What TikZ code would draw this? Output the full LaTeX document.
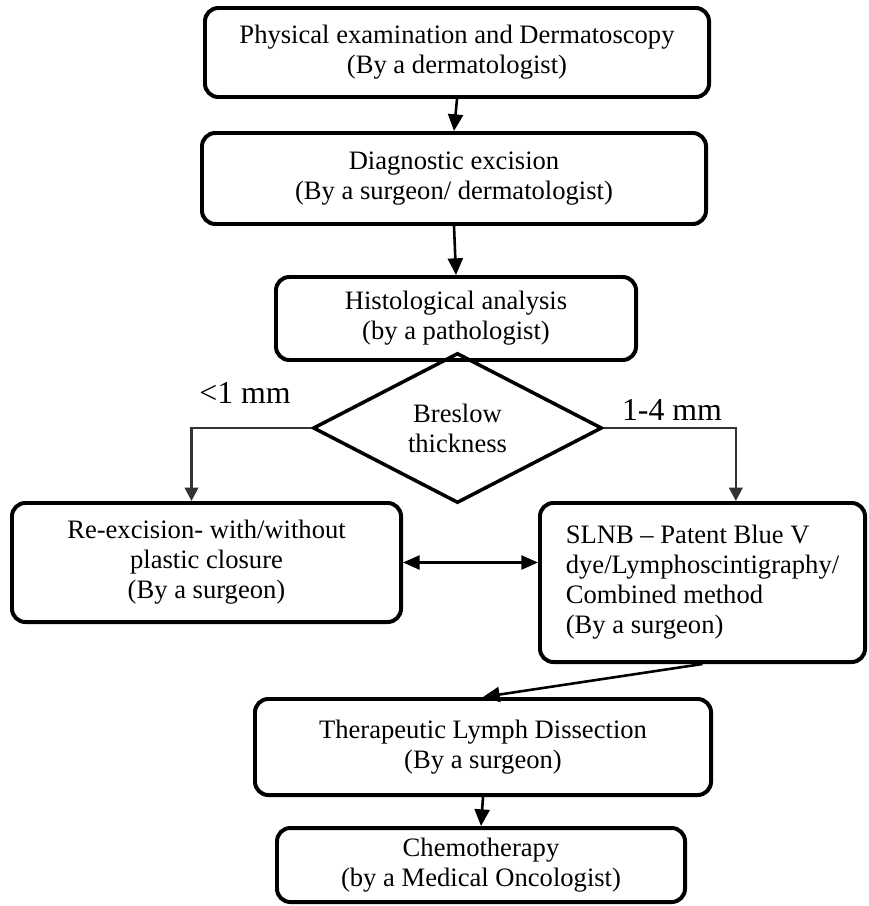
\documentclass[tikz,border=0pt]{standalone}
\usepackage{fontspec}
\setmainfont{Liberation Serif}
\usetikzlibrary{arrows.meta,shapes.geometric}

\begin{document}
\begin{tikzpicture}[x=0.03cm,y=-0.03cm,
    stage/.style={draw,rounded corners=0.4cm,line width=3.4pt,align=center,inner sep=0pt,
        font=\fontsize{22.7}{25.6}\selectfont},
    decision/.style={draw,diamond,aspect=1.9,line width=3pt,align=center,inner sep=0pt,
        minimum width=8.67cm,minimum height=4.5cm,font=\fontsize{22.7}{25.6}\selectfont},
    flow/.style={line width=2.2pt,-{Triangle[length=0.5cm,width=0.45cm]}},
    branch/.style={line width=2.2pt,draw=black!80,-{Triangle[length=0.4cm,width=0.4cm]}},
    threshold/.style={font=\fontsize{27.2}{30}\selectfont}]
    % Page size
    \useasboundingbox (0,0) rectangle (868,906);

    % Diagnosis
    \node[stage,minimum width=15.12cm,minimum height=2.67cm] (physexam) at (457,52.5)
        {Physical examination and Dermatoscopy\\(By a dermatologist)};
    \node[stage,minimum width=15.12cm,minimum height=2.73cm] (diagexc) at (454,178.5)
        {Diagnostic excision\\(By a surgeon/ dermatologist)};
    \node[stage,minimum width=10.8cm,minimum height=2.49cm] (histo) at (456,318.5)
        {Histological analysis\\(by a pathologist)};
    \node[decision] (breslow) at (457.5,428) {Breslow\\thickness};

    % Thickness labels
    \node[threshold] (thin) at (245,393) {<1 mm};
    \node[threshold] (thick) at (672,410) {1-4 mm};

    % Treatment
    \node[stage,minimum width=11.67cm,minimum height=3.57cm] (reexc) at (206.5,562.5)
        {Re-excision- with/without\\plastic closure\\(By a surgeon)};
    \node[stage,align=left,minimum width=9.75cm,minimum height=4.77cm] (slnb) at (702.5,582.5)
        {SLNB \textendash{} Patent Blue V\\dye/Lymphoscintigraphy/\\Combined method\\(By a surgeon)};
    \node[stage,minimum width=13.68cm,minimum height=2.88cm] (lymphdis) at (483,747)
        {Therapeutic Lymph Dissection\\(By a surgeon)};
    \node[stage,minimum width=12.24cm,minimum height=2.22cm] (chemo) at (481,865)
        {Chemotherapy\\(by a Medical Oncologist)};

    % Connectors
    \draw[flow] (physexam.south) -- (diagexc.north);
    \draw[flow] (diagexc.south) -- (histo.north);
    \draw[branch] (breslow.west) -| ([xshift=-0.45cm]reexc.north);
    \draw[branch] (breslow.east) -| ([xshift=1cm]slnb.north);
    \draw[flow,{Triangle[length=0.5cm,width=0.42cm]}-{Triangle[length=0.5cm,width=0.42cm]}]
        (reexc.east) -- (reexc.east -| slnb.west);
    \draw[flow] (slnb.south) -- (lymphdis.north);
    \draw[flow] (lymphdis.south) -- (chemo.north);
\end{tikzpicture}
\end{document}
